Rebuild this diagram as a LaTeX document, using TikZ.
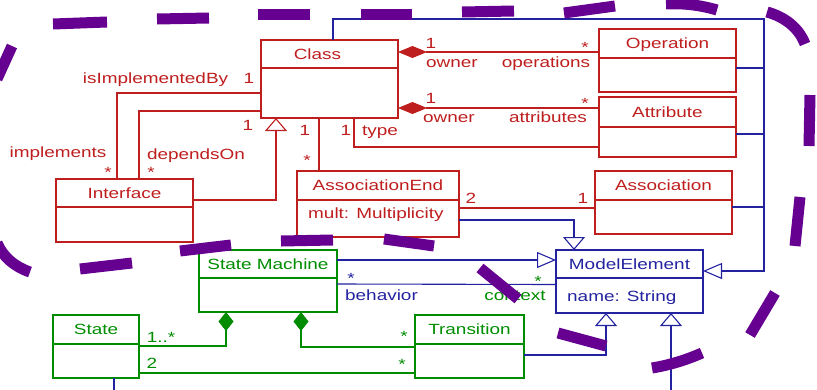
\documentclass[tikz,border=0pt]{standalone}
\usepackage{fontspec}
\setmainfont{Liberation Sans}[FakeStretch=1.28]
\usetikzlibrary{arrows.meta,positioning}

\definecolor{umlred}{RGB}{190,30,30}
\definecolor{umlblue}{RGB}{35,35,160}
\definecolor{umlgreen}{RGB}{0,140,0}
\definecolor{penpurple}{RGB}{102,0,145}

\begin{document}
\begin{tikzpicture}[x=1pt,y=-1pt,font=\fontsize{14.8}{17}\selectfont]

	\tikzset{box/.style = {draw, outer sep=0pt, inner sep=0pt, line width=1.1pt}}
	\tikzset{head/.style = {box, text height=10.7pt, text depth=0pt}}
	\tikzset{redhead/.style = {head, draw=umlred, text=umlred}}
	\tikzset{redbody/.style = {box, draw=umlred, text=umlred}}
	\tikzset{bluehead/.style = {head, draw=umlblue, text=umlblue}}
	\tikzset{bluebody/.style = {box, draw=umlblue, text=umlblue}}
	\tikzset{greenhead/.style = {head, draw=umlgreen, text=umlgreen}}
	\tikzset{greenbody/.style = {box, draw=umlgreen, text=umlgreen}}
	\tikzset{lbl/.style = {inner sep=0pt, anchor=base}}
	\tikzset{redline/.style = {draw=umlred, line width=1.1pt}}
	\tikzset{blueline/.style = {draw=umlblue, line width=1.1pt}}
	\tikzset{greenline/.style = {draw=umlgreen, line width=1.1pt}}
	\tikzset{genv/.style = {-{Triangle[open,length=13pt,width=22pt]}}}
	\tikzset{genh/.style = {-{Triangle[open,length=19pt,width=16pt]}}}
	\tikzset{compv/.style = {-{Diamond[length=19pt,width=15pt]}}}
	\tikzset{comph/.style = {{Diamond[length=29pt,width=12pt]}-}}
	\tikzset{pen/.style = {draw=penpurple, line width=11pt}}

	\useasboundingbox (0,0) rectangle (817,389);

	% classes
	\node[redhead, minimum width=137pt, minimum height=28pt] (classH) at (329.5,54) {\hspace*{-24pt}Class};
	\node[redbody, minimum width=137pt, minimum height=50pt, below=0pt of classH] (classB) {};
	\node[redhead, minimum width=137pt, minimum height=29pt] (opH) at (667.5,43.5) {Operation};
	\node[redbody, minimum width=137pt, minimum height=34pt, below=0pt of opH] (opB) {};
	\node[redhead, minimum width=137pt, minimum height=30pt] (attrH) at (667.5,112) {Attribute};
	\node[redbody, minimum width=137pt, minimum height=30pt, below=0pt of attrH] (attrB) {};
	\node[redhead, minimum width=137pt, minimum height=29pt] (assocH) at (663.5,185.5) {Association};
	\node[redbody, minimum width=137pt, minimum height=34pt, below=0pt of assocH] (assocB) {};
	\node[redhead, minimum width=137pt, minimum height=28pt] (ifaceH) at (124.5,193) {Interface};
	\node[redbody, minimum width=137pt, minimum height=35pt, below=0pt of ifaceH] (ifaceB) {};
	\node[redhead, minimum width=162pt, minimum height=29pt] (aendH) at (378,185.5) {AssociationEnd};
	\node[redbody, minimum width=162pt, minimum height=37pt, below=0pt of aendH] (aendB) {};
	\node[lbl, anchor=base west, text=umlred] (aendAttr) at ([xshift=11pt,yshift=-18pt]aendB.north west) {mult: Multiplicity};

	\node[bluehead, minimum width=147pt, minimum height=28pt] (meH) at (629.5,264) {ModelElement};
	\node[bluebody, minimum width=147pt, minimum height=35pt, below=0pt of meH] (meB) {};
	\node[lbl, anchor=base west, text=umlblue] (meAttr) at ([xshift=11pt,yshift=-23pt]meB.north west) {name: String};

	\node[greenhead, minimum width=138pt, minimum height=28pt] (smH) at (268,264) {State Machine};
	\node[greenbody, minimum width=138pt, minimum height=34pt, below=0pt of smH] (smB) {};
	\node[greenhead, minimum width=86pt, minimum height=29pt] (stateH) at (96,329.5) {State};
	\node[greenbody, minimum width=86pt, minimum height=34pt, below=0pt of stateH] (stateB) {};
	\node[greenhead, minimum width=109pt, minimum height=29pt] (transH) at (469.5,329.5) {Transition};
	\node[greenbody, minimum width=109pt, minimum height=34pt, below=0pt of transH] (transB) {};

	% generalisation bus on the right
	\coordinate (bus) at (764,19);
	\draw[blueline, genh] ([xshift=3.5pt]classH.north) |- (bus) |- ([yshift=-7pt]meH.east);
	\draw[blueline] ([yshift=7pt]opB.east) coordinate (opR) -- (opR -| bus);
	\draw[blueline] ([yshift=8pt]attrB.east) coordinate (attrR) -- (attrR -| bus);
	\draw[blueline] ([yshift=10pt]assocB.east) coordinate (assocR) -- (assocR -| bus);

	% red associations
	\draw[redline, comph] ([yshift=2pt]classH.east) -- ([yshift=-8.5pt]opH.west);
	\draw[redline, comph] ([yshift=-15pt]classB.east) -- ([yshift=4pt]attrH.west);
	\draw[redline] (classB.west) -| ([xshift=-7.5pt]ifaceH.north);
	\draw[redline] ([yshift=-18pt]classB.west) -| ([xshift=14.5pt]ifaceH.north);
	\draw[redline, genv] ([yshift=-7pt]ifaceH.east) -| ([xshift=-53.5pt]classB.south);
	\draw[redline] ([xshift=-10.5pt]classB.south) -- ([xshift=-59pt]aendH.north);
	\draw[redline] ([xshift=24.5pt]classB.south) |- ([yshift=-5pt]attrB.west);
	\draw[redline] ([yshift=10.5pt]aendB.east) -- ([yshift=9pt]assocB.west);

	% blue and green part
	\draw[blueline, genv] ([yshift=-1.5pt]aendB.east) -| ([xshift=-55.5pt]meH.north);
	\draw[blueline, genh] ([yshift=4pt]smH.east) -- ([yshift=4pt]meH.west);
	\draw[blueline] ([yshift=11pt]smB.east) -- ([yshift=11pt]meB.west);
	\draw[greenline, compv] ([yshift=15pt]stateB.east) -| ([xshift=-42pt]smB.south);
	\draw[greenline, compv] ([yshift=14pt]transB.west) -| ([xshift=33pt]smB.south);
	\draw[greenline] ([yshift=-12pt]stateB.east) -- ([yshift=-12pt]transB.west);
	\draw[blueline, genv] ([yshift=6pt]transB.east) -| ([xshift=-23.5pt]meB.south);
	\coordinate (subME) at (671,392);
	\draw[blueline, genv] (subME) -- ([xshift=41.5pt]meB.south);
	\coordinate (subState) at (114,392);
	\draw[blueline] ([xshift=18pt]stateB.south) -- (subState);

	% role names and multiplicities
	\node[lbl, text=umlred] (rImplBy) at (155.5,83) {isImplementedBy};
	\node[lbl, text=umlred] (mImplBy) at (249,83) {1};
	\node[lbl, text=umlred] (rImpl) at (58,157) {implements};
	\node[lbl, text=umlred] (mImpl) at (108,177) {*};
	\node[lbl, text=umlred] (mDepClass) at (248,130) {1};
	\node[lbl, text=umlred] (rDep) at (196,159) {dependsOn};
	\node[lbl, text=umlred] (mDep) at (151,177) {*};
	\node[lbl, text=umlred] (mEndClass) at (305,135) {1};
	\node[lbl, text=umlred] (mEnd) at (307,165) {*};
	\node[lbl, text=umlred] (mType) at (346,135) {1};
	\node[lbl, text=umlred] (rType) at (380,135) {type};
	\node[lbl, text=umlred] (mOpOwner) at (431,48) {1};
	\node[lbl, text=umlred] (mOp) at (585,52) {*};
	\node[lbl, text=umlred] (rOpOwner) at (452,67) {owner};
	\node[lbl, text=umlred] (rOp) at (546,67) {operations};
	\node[lbl, text=umlred] (mAttrOwner) at (431,103) {1};
	\node[lbl, text=umlred] (mAttr) at (585,108) {*};
	\node[lbl, text=umlred] (rAttrOwner) at (449,122) {owner};
	\node[lbl, text=umlred] (rAttr) at (548,122) {attributes};
	\node[lbl, text=umlred] (mEndTwo) at (471,203) {2};
	\node[lbl, text=umlred] (mAssoc) at (583,203) {1};
	\node[lbl, text=umlblue] (mBehav) at (351,283) {*};
	\node[lbl, text=umlblue] (rBehav) at (381.5,300) {behavior};
	\node[lbl, text=umlgreen] (mCtx) at (538,286) {*};
	\node[lbl, text=umlgreen] (rCtx) at (515,300) {context};
	\node[lbl, text=umlgreen] (mStates) at (161,342) {1..*};
	\node[lbl, text=umlgreen] (mStateTwo) at (152,368) {2};
	\node[lbl, text=umlgreen] (mTrans) at (404,341) {*};
	\node[lbl, text=umlgreen] (mTransTwo) at (402,369) {*};

	% purple pen stroke
	\draw[pen] (-3,79) -- (12,46);
	\draw[pen] (53,24) -- (107,22);
	\draw[pen] (157,19) -- (209,18);
	\draw[pen] (258,14) -- (310,14);
	\draw[pen] (361,14) -- (412,14);
	\draw[pen] (462,12) -- (514,11);
	\draw[pen] (564,13) -- (615,6);
	\draw[pen] (666,4) .. controls (683,3) and (700,5) .. (717,10);
	\draw[pen] (767,12) .. controls (785,17) and (799,28) .. (805,44);
	\draw[pen] (810,95) -- (809,146);
	\draw[pen] (800,197) -- (795,246);
	\draw[pen] (775,293) -- (750,335);
	\draw[pen] (702,353) .. controls (686,360) and (670,365) .. (652,368);
	\draw[pen] (606,346) -- (558,333);
	\draw[pen] (518,299) -- (480,268);
	\draw[pen] (434,246) -- (384,239);
	\draw[pen] (333,240) -- (281,241);
	\draw[pen] (231,245) -- (180,251);
	\draw[pen] (132,263) -- (80,269);
	\draw[pen] (30,272) .. controls (15,267) and (3,257) .. (-3,243);
\end{tikzpicture}
\end{document}
